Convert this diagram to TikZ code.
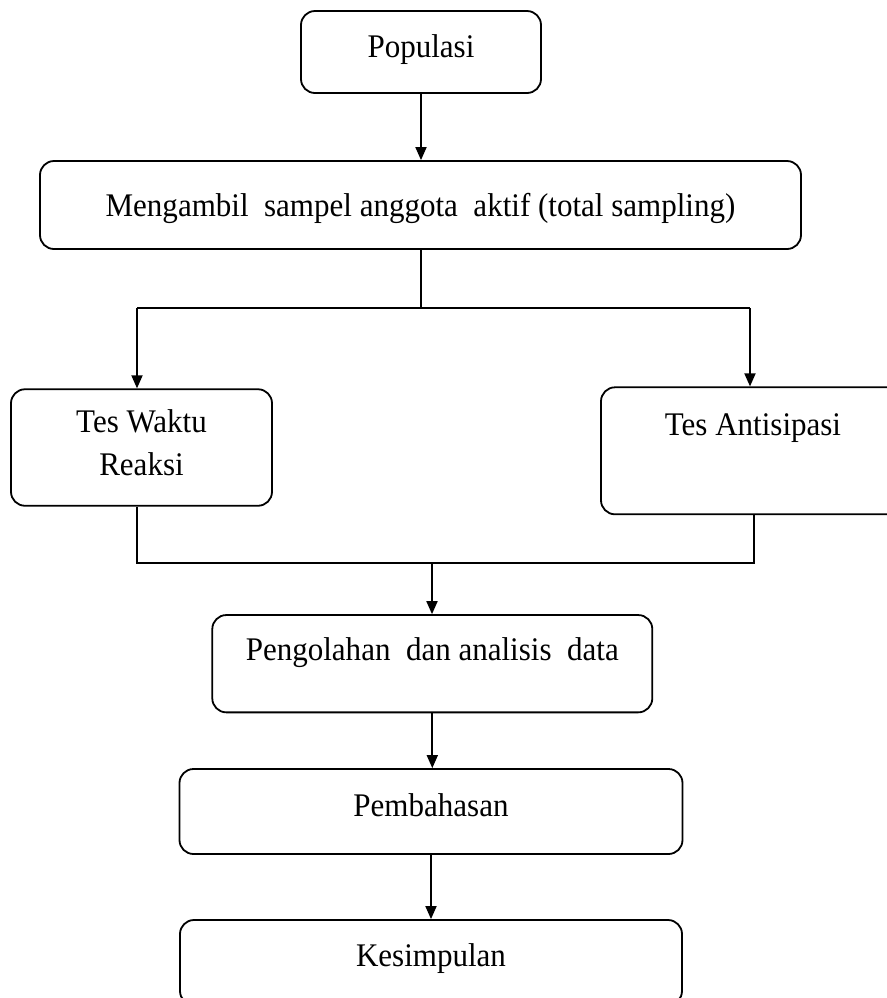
\documentclass[tikz,border=0pt]{standalone}
\usepackage{fontspec}
\setmainfont{Liberation Serif}[FakeStretch=0.94]
\usetikzlibrary{arrows.meta}
\tikzset{
  box/.style={draw,rounded corners=7pt,line width=0.9pt,inner sep=0pt,align=center,font=\fontsize{16.5}{21.7}\selectfont},
  arr/.style={-{Triangle[length=6.5pt,width=5.5pt]},line width=0.9pt}
}
\begin{document}
\begin{tikzpicture}[x=0.5pt,y=-0.5pt]
    \useasboundingbox(0,0)rectangle(887,998);
    \clip(0,0)rectangle(887,998);
    % boxes
    \node[box,minimum width=120pt,minimum height=41pt,text height=11pt,text depth=5.7pt](pop)at(421,52){Populasi};
    \node[box,minimum width=380.5pt,minimum height=44pt,text height=14.7pt,text depth=3.5pt](samp)at(420.5,205){Mengambil\ \ sampel anggota\ \ aktif (total sampling)};
    \node[box,minimum width=130.5pt,minimum height=58.25pt,text depth=5pt](waktu)at(141.5,447.5){Tes Waktu\\Reaksi};
    \node[box,minimum width=152pt,minimum height=63.5pt,text height=11pt,text depth=26.8pt](antis)at(753,450.8){Tes Antisipasi};
    \node[box,minimum width=220pt,minimum height=48.65pt,text height=11pt,text depth=14.7pt](peng)at(432.3,663.7){Pengolahan\ \ dan analisis\ \ data};
    \node[box,minimum width=251.5pt,minimum height=42.5pt,text height=11pt,text depth=6.5pt](pemb)at(431,811.5){Pembahasan};
    \node[box,minimum width=251pt,minimum height=42.5pt,text height=11pt,text depth=6.8pt](kes)at(431,962.5){Kesimpulan};
    % split and join points
    \coordinate(split)at(421,308);
    \coordinate(sl)at(137,308);
    \coordinate(sr)at(750,308);
    \coordinate(jl)at(137,563);
    \coordinate(jr)at(754,563);
    \coordinate(join)at(432,563);
    % connectors
    \draw[arr](pop.south)--(pop.south|-samp.north);
    \draw[line width=0.6pt](samp.south-|split)--(split);
    \draw[line width=0.9pt](sl)--(sr);
    \draw[arr](sl)--(sl|-waktu.north);
    \draw[arr](sr)--(sr|-antis.north);
    \draw[line width=0.9pt](jl|-waktu.south)--(jl)--(jr)--(jr|-antis.south);
    \draw[arr](join)--(join|-peng.north);
    \draw[arr](peng.south)--(peng.south|-pemb.north);
    \draw[arr](pemb)--(kes);
\end{tikzpicture}
\end{document}
